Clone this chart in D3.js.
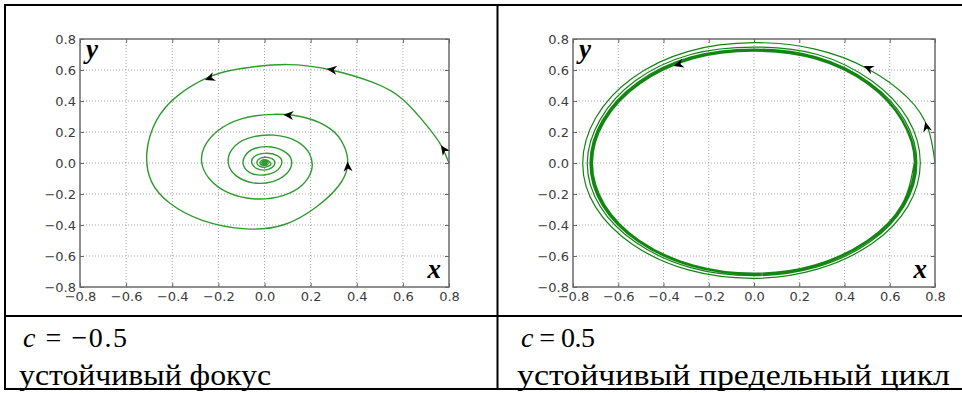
<!DOCTYPE html>
<html><head><meta charset="utf-8">
<script src="https://cdn.jsdelivr.net/npm/d3@7"></script>
<style>
html,body{margin:0;padding:0;background:#fff;}svg{display:block;}
</style>
</head><body>
<svg id="chart" width="962" height="393"></svg>
<script>
// ---------- data ----------
const tickValues = [-0.8, -0.6, -0.4, -0.2, 0.0, 0.2, 0.4, 0.6, 0.8];
const tickLabels = ["\u22120.8","\u22120.6","\u22120.4","\u22120.2","0.0","0.2","0.4","0.6","0.8"];

// stable focus, c = -0.5 (points read along the trajectory)
const focusPath = [[0.80,0.00],[0.765,0.115],[0.71,0.23],[0.60,0.41],[0.47,0.52],[0.29,0.60],[0.10,0.635],[-0.10,0.61],[-0.24,0.555],[-0.38,0.43],[-0.47,0.27],[-0.51,0.07],[-0.49,-0.12],[-0.41,-0.26],[-0.27,-0.37],[-0.08,-0.425],[0.09,-0.395],[0.226,-0.282],[0.32,-0.15],[0.36,-0.02],
[0.345,0.11],[0.284,0.222],[0.17,0.295],[0.04,0.314],[-0.10,0.285],[-0.205,0.205],[-0.262,0.10],[-0.272,0.00],[-0.24,-0.10],[-0.16,-0.19],[-0.04,-0.232],[0.08,-0.21],[0.165,-0.14],[0.205,-0.04],
[0.195,0.06],[0.14,0.14],[0.04,0.18],[-0.07,0.16],[-0.14,0.09],[-0.157,0.0],[-0.125,-0.08],[-0.05,-0.128],[0.035,-0.12],[0.095,-0.07],[0.118,0.0],
[0.095,0.065],[0.03,0.103],[-0.04,0.095],[-0.085,0.045],[-0.09,-0.02],[-0.055,-0.068],[0.0,-0.077],[0.048,-0.055],[0.075,0.0],
[0.055,0.048],[0.0,0.062],[-0.045,0.04],[-0.055,0.0],[-0.035,-0.035],[0.0,-0.046],[0.032,-0.03],[0.045,0.0],
[0.032,0.028],[0.0,0.037],[-0.025,0.024],[-0.033,0.0],[-0.022,-0.02],[0.0,-0.028],[0.019,-0.019],[0.027,0.0],
[0.0,0.022],[-0.02,0.0],[0.0,-0.017],[0.016,0.0],[0.0,0.013],[-0.012,0.0],[0.0,-0.01],[0.009,0.0],[0.0,0.007],[-0.006,0.0],[0.0,-0.005],[0.003,0.0],[0.0,0.0]];
const focusArrows = [[[0.79,0.06],[0.765,0.115]],[[0.33,0.595],[0.27,0.607]],[[-0.20,0.568],[-0.258,0.535]],[[0.362,-0.05],[0.36,0.01]],[[0.135,0.305],[0.082,0.312]]];

// stable limit cycle, c = 0.5
const cyclePath = [[0.80,0.00],[0.77,0.22],[0.68,0.42],[0.50,0.61],[0.27,0.735],[0.0,0.776],[-0.29,0.72],[-0.54,0.545],[-0.70,0.29],[-0.757,0.0],[-0.70,-0.285],[-0.535,-0.527],[-0.29,-0.69],[0.0,-0.744],[0.28,-0.685],[0.522,-0.52],[0.68,-0.28],[0.735,0.0],
[0.68,0.285],[0.52,0.53],[0.28,0.70],[0.0,0.748],[-0.28,0.70],[-0.525,0.53],[-0.68,0.28],[-0.737,0.0],[-0.68,-0.28],[-0.52,-0.515],[-0.28,-0.675],[0.0,-0.727],[0.275,-0.672],[0.512,-0.51],[0.665,-0.275],[0.72,0.0],
[0.665,0.28],[0.51,0.52],[0.275,0.685],[0.0,0.735],[-0.278,0.685],[-0.515,0.52],[-0.67,0.277],[-0.725,0.0],[-0.67,-0.275],[-0.512,-0.508],[-0.276,-0.666],[0.0,-0.72],[0.272,-0.665],[0.506,-0.505],[0.66,-0.273],[0.715,0.0],
[0.658,0.277],[0.506,0.515],[0.273,0.678],[0.0,0.728],[-0.275,0.678],[-0.51,0.514],[-0.665,0.275],[-0.72,0.0],[-0.665,-0.273],[-0.508,-0.505],[-0.274,-0.662],[0.0,-0.716],[0.271,-0.661],[0.503,-0.503],[0.657,-0.272],[0.712,0.0],
[0.655,0.275],[0.504,0.512],[0.272,0.674],[0.0,0.724],[-0.274,0.674],[-0.507,0.511],[-0.662,0.274],[-0.717,0.0],[-0.662,-0.272],[-0.506,-0.503],[-0.273,-0.659],[0.0,-0.713],[0.27,-0.659],[0.502,-0.502],[0.655,-0.271],[0.71,0.0],
[0.654,0.274],[0.503,0.51],[0.271,0.672],[0.0,0.722],[-0.273,0.672],[-0.506,0.51],[-0.66,0.273],[-0.715,0.0],[-0.66,-0.271],[-0.505,-0.502],[-0.272,-0.658],[0.0,-0.712],[0.27,-0.658],[0.501,-0.501],[0.654,-0.271],[0.709,0.0],
[0.653,0.273],[0.502,0.509],[0.271,0.671],[0.0,0.721],[-0.272,0.671],[-0.505,0.509],[-0.659,0.272],[-0.714,0.0],[-0.659,-0.271],[-0.504,-0.501],[-0.272,-0.657],[0.0,-0.711],[0.27,-0.657],[0.50,-0.50],[0.653,-0.27],[0.708,0.0]];
const cycleArrows = [[[0.768,0.20],[0.757,0.266]],[[0.54,0.59],[0.485,0.626]],[[-0.30,0.65],[-0.355,0.626]]];

const panels = [
  {left:80, right:449, top:39, bottom:287, path:focusPath, arrows:focusArrows, color:"#2f9a2f", width:1.4,
   formula:["c"," = \u22120.5"], fX:23, fLen:104, caption:"устойчивый фокус", capX:19, capLen:252},
  {left:573, right:935, top:39, bottom:287, path:cyclePath, arrows:cycleArrows, color:"#138513", width:1.2,
   formula:["c"," = 0.5"], fX:521, fLen:74, caption:"устойчивый предельный цикл", capX:517, capLen:433}
];

const SERIF = "'Liberation Serif', 'Times New Roman', Tinos, 'DejaVu Serif', serif";

// ---------- drawing ----------
const svg = d3.select("#chart");

panels.forEach(p => {
  const x = d3.scaleLinear().domain([-0.8,0.8]).range([p.left,p.right]);
  const y = d3.scaleLinear().domain([-0.8,0.8]).range([p.bottom,p.top]);
  const g = svg.append("g");
  const W = p.right - p.left, H = p.bottom - p.top;

  // grid
  g.append("g").selectAll("line").data(tickValues.slice(1,-1)).join("line")
    .attr("x1", d => x(d)).attr("x2", d => x(d)).attr("y1", p.top).attr("y2", p.bottom)
    .attr("stroke","#a8a8a8").attr("stroke-width",1).attr("stroke-dasharray","1,2");
  g.append("g").selectAll("line").data(tickValues.slice(1,-1)).join("line")
    .attr("y1", d => y(d)).attr("y2", d => y(d)).attr("x1", p.left).attr("x2", p.right)
    .attr("stroke","#a8a8a8").attr("stroke-width",1).attr("stroke-dasharray","1,2");

  // trajectory
  const line = d3.line().x(d => x(d[0])).y(d => y(d[1])).curve(d3.curveNatural);
  g.append("path").datum(p.path).attr("d", line).attr("fill","none")
    .attr("stroke", p.color).attr("stroke-width", p.width);

  // arrows
  g.append("g").selectAll("path").data(p.arrows).join("path")
    .attr("d","M0,0 L-10,-4.5 L-7,0 L-10,4.5 Z").attr("fill","#000")
    .attr("transform", d => {
      const x0 = x(d[0][0]), y0 = y(d[0][1]), x1 = x(d[1][0]), y1 = y(d[1][1]);
      const a = Math.atan2(y1 - y0, x1 - x0) * 180 / Math.PI;
      return `translate(${x1},${y1}) rotate(${a})`;
    });

  // axes
  const fmt = d => tickLabels[tickValues.indexOf(d)];
  const axL = d3.axisLeft(y).tickValues(tickValues).tickFormat(fmt).tickSizeInner(-4).tickSizeOuter(0).tickPadding(4);
  const axB = d3.axisBottom(x).tickValues(tickValues).tickFormat(fmt).tickSizeInner(-4).tickSizeOuter(0).tickPadding(5);
  const axR = d3.axisRight(y).tickValues(tickValues).tickFormat("").tickSizeInner(-4).tickSizeOuter(0);
  const axT = d3.axisTop(x).tickValues(tickValues).tickFormat("").tickSizeInner(-4).tickSizeOuter(0);
  [[axL,`translate(${p.left},0)`],[axB,`translate(0,${p.bottom})`],[axR,`translate(${p.right},0)`],[axT,`translate(0,${p.top})`]]
    .forEach(([ax,tr]) => {
      const a = g.append("g").attr("transform",tr).call(ax);
      a.select(".domain").remove();
      a.selectAll("line").attr("stroke","#666").attr("stroke-width",1);
      a.selectAll("text").style("font-family","'DejaVu Sans',sans-serif").style("font-size","13px").attr("fill","#3c3c3c");
    });

  // frame
  g.append("rect").attr("x",p.left).attr("y",p.top).attr("width",W).attr("height",H)
    .attr("fill","none").attr("stroke","#6a6a6a").attr("stroke-width",1.5);

  // axis letters
  g.append("text").attr("x",p.left+6).attr("y",p.top+19).text("y")
    .style("font-family",SERIF).style("font-style","italic").style("font-weight","bold").style("font-size","27px");
  g.append("text").attr("x",p.right-8).attr("y",p.bottom-9).attr("text-anchor","end").text("x")
    .style("font-family",SERIF).style("font-style","italic").style("font-weight","bold").style("font-size","27px");

  // captions
  const f = svg.append("text").attr("x",p.fX).attr("y",347)
    .style("font-family",SERIF).style("font-size","28px").attr("fill","#000")
    .attr("textLength",p.fLen).attr("lengthAdjust","spacing");
  f.append("tspan").style("font-style","italic").text(p.formula[0]);
  f.append("tspan").text(p.formula[1]);
  svg.append("text").attr("x",p.capX).attr("y",385).text(p.caption)
    .style("font-family",SERIF).style("font-size","30px").attr("fill","#000")
    .attr("textLength",p.capLen).attr("lengthAdjust","spacingAndGlyphs");
});

// table borders
const hLines = [5, 316, 389];
const vLines = [5, 497.5];
svg.append("g").selectAll("line").data(hLines).join("line")
  .attr("x1",4).attr("x2",962).attr("y1",d=>d).attr("y2",d=>d).attr("stroke","#000").attr("stroke-width",2);
svg.append("g").selectAll("line").data(vLines).join("line")
  .attr("x1",d=>d).attr("x2",d=>d).attr("y1",4).attr("y2",390).attr("stroke","#000").attr("stroke-width",2);
</script>
</body></html>
